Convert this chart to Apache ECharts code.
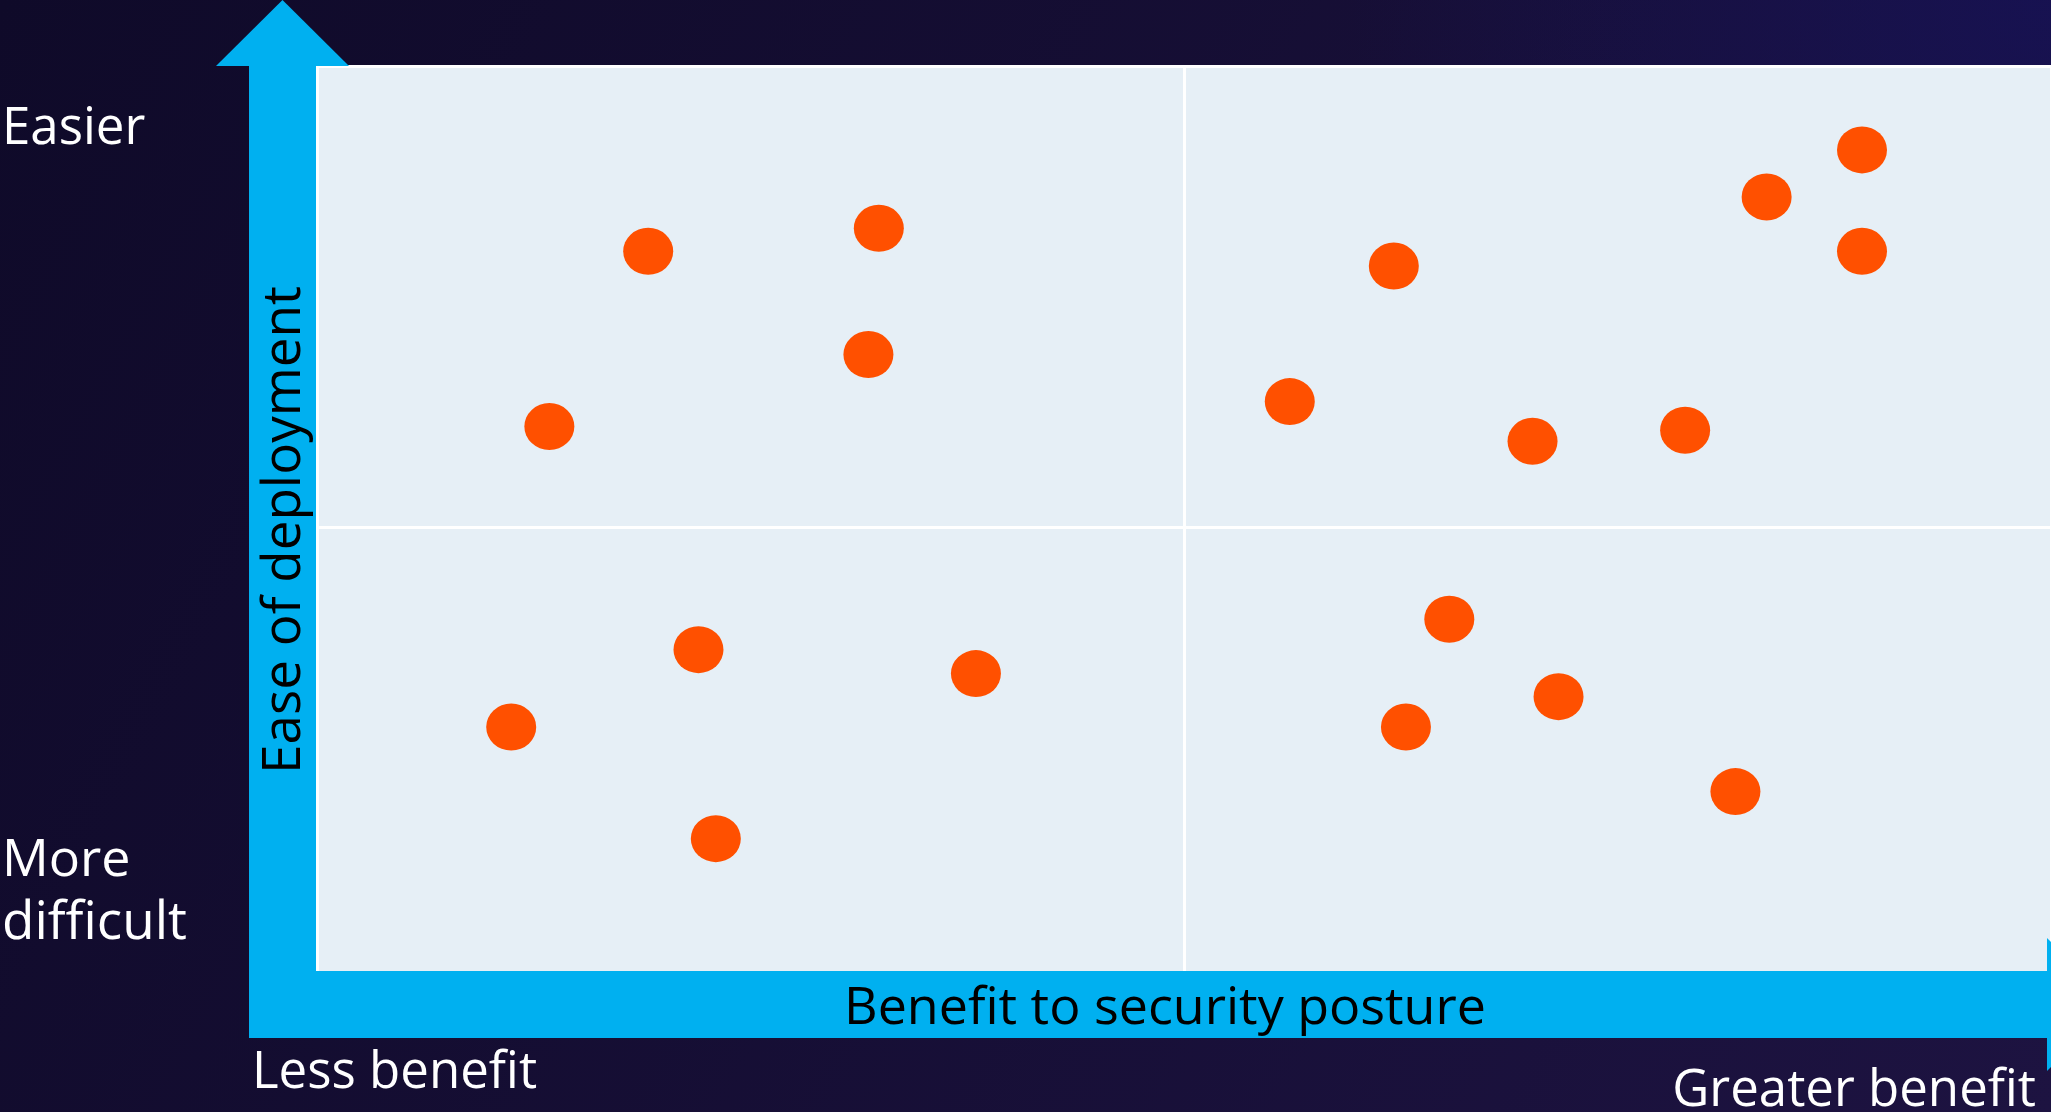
<!DOCTYPE html>
<html lang="en">
<head>
    <meta charset="UTF-8">
    <title>Ease of deployment vs benefit</title>
    <script src="https://cdn.jsdelivr.net/npm/echarts@6/dist/echarts.min.js"></script>
    <style>
        html, body { margin: 0; padding: 0; background: #120b2e; }
        #chart { width: 2051px; height: 1112px; }
    </style>
</head>
<body>
    <div id="chart"></div>
    <script>
        // benefit to security posture (x) and ease of deployment (y), both 0..100
        var benefit = [19.1, 32.4, 31.8, 13.4, 22.0, 11.2, 38.0, 23.0,
                       62.1, 56.1, 70.1, 78.9, 83.6, 89.1, 89.1, 65.3, 62.8, 71.6, 81.8];
        var ease = [79.9, 82.4, 68.7, 60.9, 36.7, 28.3, 34.1, 16.2,
                    78.3, 63.6, 59.3, 60.5, 85.8, 90.9, 79.9, 40.0, 28.3, 31.6, 21.3];
        var xAxisName = 'Benefit to security posture';
        var yAxisName = 'Ease of deployment';
        var yTopLabel = 'Easier';
        var yBottomLabel = ['More', 'difficult'];
        var xLeftLabel = 'Less benefit';
        var xRightLabel = 'Greater benefit';

        var points = benefit.map(function(b, i) { return [b, ease[i]]; });

        var blue = '#00b0f0';
        var font = '"Open Sans", "Noto Sans", sans-serif';

        function label(text, x, y, color, align, size, rot) {
            return {
                type: 'text', x: x, y: y, z: 120, rotation: rot || 0,
                style: {
                    text: text, fill: color, font: size + 'px ' + font,
                    align: align, verticalAlign: 'middle'
                }
            };
        }

        var chart = echarts.init(document.getElementById('chart'));
        chart.setOption({
            animation: false,
            backgroundColor: {
                type: 'linear', x: 0, y: 0, x2: 1, y2: 1,
                colorStops: [{ offset: 0, color: '#0f0a29' }, { offset: 1, color: '#1d1341' }]
            },
            grid: {
                left: 317, top: 66, right: 0, bottom: 124,
                show: true, backgroundColor: '#e6eff6', borderWidth: 0
            },
            xAxis: {
                type: 'value', min: 0, max: 100, interval: 50,
                axisLine: { show: false }, axisTick: { show: false }, axisLabel: { show: false },
                splitLine: { show: true, lineStyle: { color: '#ffffff', width: 3 } }
            },
            yAxis: {
                type: 'value', min: 0, max: 100, interval: 50,
                axisLine: { show: false }, axisTick: { show: false }, axisLabel: { show: false },
                splitLine: { show: true, lineStyle: { color: '#ffffff', width: 3 } }
            },
            series: [{
                type: 'scatter',
                data: points,
                symbol: 'circle',
                symbolSize: [50, 47],
                itemStyle: { color: '#ff5000', opacity: 1 },
                z: 5
            }],
            graphic: [
                // bluish glow top right
                {
                    type: 'rect', z: -1, silent: true,
                    shape: { x: 1000, y: 0, width: 1051, height: 700 },
                    style: {
                        fill: {
                            type: 'radial', x: 1, y: 0, r: 1,
                            colorStops: [{ offset: 0, color: 'rgba(22,18,88,0.75)' }, { offset: 1, color: 'rgba(22,18,88,0)' }]
                        }
                    }
                },
                // vertical arrow
                { type: 'rect', z: 100, shape: { x: 249, y: 66, width: 67, height: 972 }, style: { fill: blue } },
                { type: 'polygon', z: 100, shape: { points: [[216, 66], [282.5, 0], [349, 66]] }, style: { fill: blue } },
                // horizontal arrow
                { type: 'rect', z: 100, shape: { x: 249, y: 971, width: 1798, height: 67 }, style: { fill: blue } },
                { type: 'polygon', z: 100, shape: { points: [[2047, 938], [2113, 1004.5], [2047, 1071]] }, style: { fill: blue } },
                // texts
                label(xAxisName, 1165, 1009, '#000000', 'center', 52),
                label(yAxisName, 285, 530, '#000000', 'center', 53, Math.PI / 2),
                label(yTopLabel, 2, 129, '#ffffff', 'left', 51),
                label(yBottomLabel[0], 2, 861, '#ffffff', 'left', 52),
                label(yBottomLabel[1], 2, 924, '#ffffff', 'left', 53),
                label(xLeftLabel, 252, 1073, '#ffffff', 'left', 51),
                label(xRightLabel, 2036, 1091, '#ffffff', 'right', 51)
            ]
        });
    </script>
</body>
</html>
